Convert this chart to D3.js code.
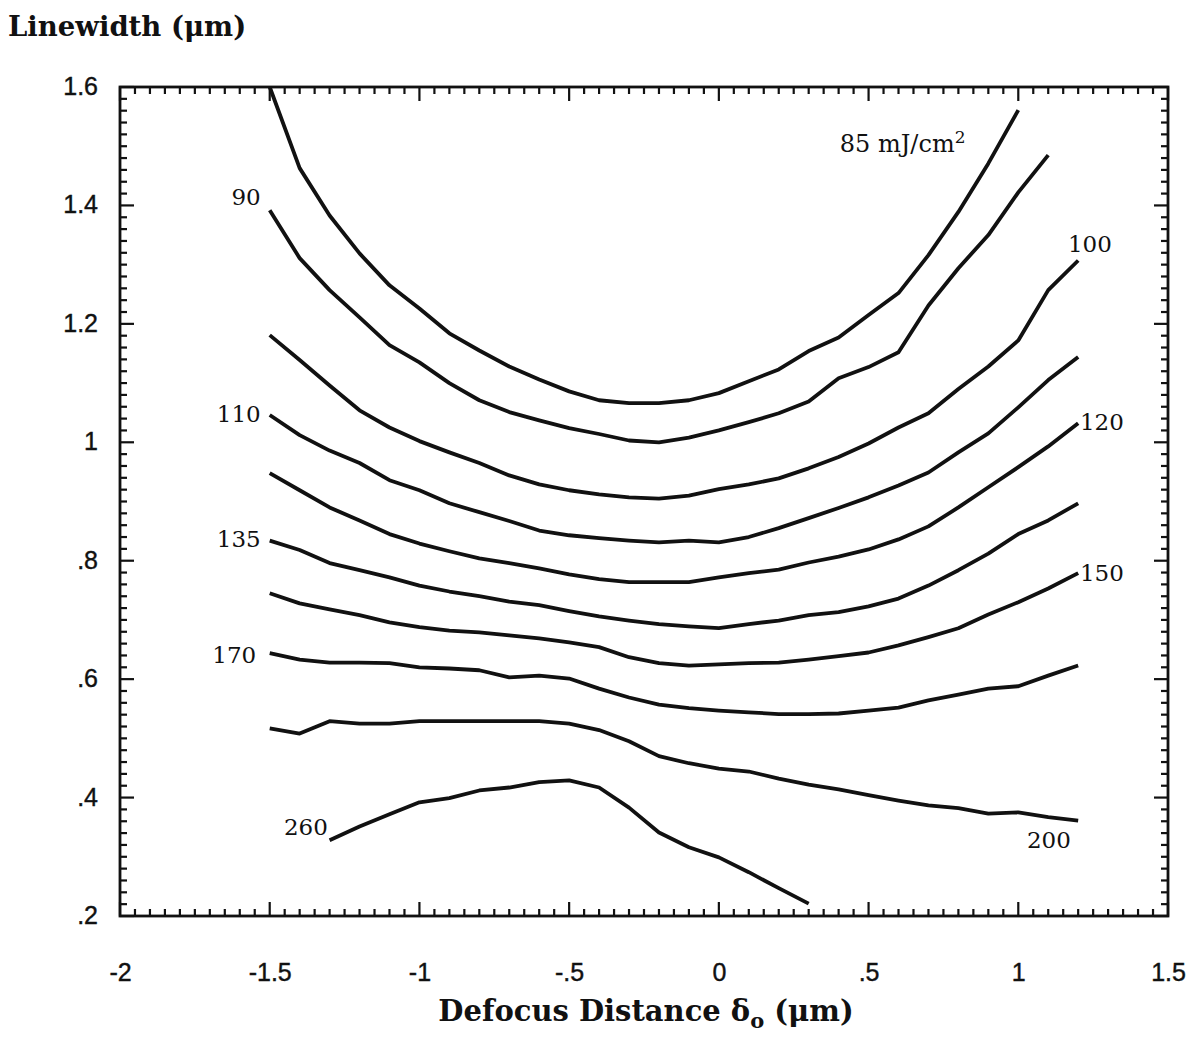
<!DOCTYPE html>
<html>
<head>
<meta charset="utf-8">
<script src="https://cdn.jsdelivr.net/npm/d3@7"></script>
<style>
  html, body { margin: 0; padding: 0; background: #fff; }
  svg { display: block; }
</style>
</head>
<body>
<svg id="chart" width="1195" height="1041"></svg>
<script>
// ---------------- data ----------------
const defocus = [-1.5,-1.4,-1.3,-1.2,-1.1,-1.0,-0.9,-0.8,-0.7,-0.6,-0.5,-0.4,-0.3,-0.2,-0.1,0,0.1,0.2,0.3,0.4,0.5,0.6,0.7,0.8,0.9,1.0,1.1,1.2];

const lw85  = [1.600,1.463,1.383,1.319,1.265,1.226,1.184,1.155,1.128,1.106,1.086,1.071,1.066,1.066,1.071,1.083,1.103,1.123,1.154,1.177,1.215,1.252,1.316,1.389,1.471,1.561];
const lw90  = [1.392,1.311,1.257,1.211,1.164,1.135,1.100,1.071,1.051,1.037,1.024,1.014,1.003,1.000,1.008,1.020,1.034,1.049,1.069,1.108,1.127,1.152,1.231,1.294,1.350,1.422,1.485];
const lw100 = [1.181,1.139,1.096,1.054,1.025,1.002,0.983,0.965,0.944,0.929,0.919,0.912,0.907,0.905,0.910,0.921,0.929,0.939,0.956,0.975,0.998,1.025,1.049,1.090,1.128,1.172,1.257,1.307];
const lw110 = [1.046,1.012,0.986,0.965,0.936,0.919,0.897,0.882,0.867,0.851,0.843,0.838,0.834,0.831,0.834,0.831,0.840,0.855,0.872,0.889,0.907,0.927,0.949,0.983,1.015,1.059,1.105,1.144];
const lw120 = [0.948,0.919,0.890,0.868,0.845,0.829,0.816,0.804,0.796,0.787,0.777,0.769,0.764,0.764,0.764,0.772,0.779,0.785,0.797,0.807,0.819,0.836,0.858,0.890,0.924,0.958,0.993,1.032];
const lw135 = [0.834,0.818,0.796,0.784,0.772,0.758,0.748,0.740,0.731,0.725,0.715,0.706,0.699,0.693,0.689,0.686,0.693,0.699,0.708,0.713,0.723,0.736,0.758,0.784,0.812,0.845,0.868,0.897];
const lw150 = [0.745,0.728,0.718,0.708,0.696,0.688,0.682,0.679,0.674,0.669,0.662,0.654,0.637,0.627,0.623,0.625,0.627,0.628,0.633,0.639,0.645,0.657,0.671,0.686,0.709,0.730,0.753,0.779];
const lw170 = [0.644,0.633,0.628,0.628,0.627,0.620,0.618,0.615,0.603,0.606,0.601,0.584,0.569,0.557,0.551,0.547,0.544,0.541,0.541,0.542,0.547,0.552,0.564,0.574,0.584,0.588,0.606,0.623];
const lw200 = [0.517,0.508,0.529,0.525,0.525,0.529,0.529,0.529,0.529,0.529,0.525,0.514,0.495,0.470,0.458,0.449,0.444,0.432,0.422,0.414,0.404,0.395,0.387,0.382,0.373,0.375,0.367,0.361];
const lw260 = [0.328,0.351,0.372,0.392,0.399,0.412,0.417,0.426,0.429,0.417,0.383,0.341,0.316,0.299,0.274,0.247,0.221];

// first defocus index of each curve
const curveStart = [0,0,0,0,0,0,0,0,0,2];
const curveValues = [lw85,lw90,lw100,lw110,lw120,lw135,lw150,lw170,lw200,lw260];

const xTickValues = [-2,-1.5,-1,-0.5,0,0.5,1,1.5];
const xTickLabels = ["-2","-1.5","-1","-.5","0",".5","1","1.5"];
const yTickValues = [0.2,0.4,0.6,0.8,1.0,1.2,1.4,1.6];
const yTickLabels = [".2",".4",".6",".8","1","1.2","1.4","1.6"];

// curve labels: text, anchor point in data coords, anchor side
const labelText = ["85 mJ/cm","90","100","110","120","135","150","170","200","260"];
const labelX    = [0.404,-1.53,1.166,-1.53,1.206,-1.53,1.206,-1.545,1.029,-1.306];
const labelY    = [1.490,1.400,1.321,1.034,1.020,0.824,0.765,0.627,0.314,0.336];
const labelEnd  = [false,true,false,true,false,true,false,true,false,true];

// ---------------- chart ----------------
const svg = d3.select("#chart");
const W = 1195, H = 1041;
const margin = {left: 120, right: 27, top: 87, bottom: 125};

const x = d3.scaleLinear().domain([-2, 1.5]).range([margin.left, W - margin.right]);
const y = d3.scaleLinear().domain([0.2, 1.6]).range([H - margin.bottom, margin.top]);

const ink = "#111";

// minor ticks
const xMinor = d3.range(-2, 1.5001, 0.05).map(v => +v.toFixed(2));
const yMinor = d3.range(0.2, 1.6001, 0.02).map(v => +v.toFixed(2));
const isMajorX = v => Math.abs(v * 2 - Math.round(v * 2)) < 1e-6;
const isMajorY = v => Math.abs(v * 5 - Math.round(v * 5)) < 1e-6;

const tickG = svg.append("g").attr("stroke", ink).attr("stroke-width", 2.2);
const x0 = x.range()[0], x1 = x.range()[1], y0 = y.range()[0], y1 = y.range()[1];
const minorLen = 7, majorLen = 14;

// bottom & top
xMinor.forEach(v => {
  const L = isMajorX(v) ? majorLen : minorLen;
  tickG.append("line").attr("x1", x(v)).attr("x2", x(v)).attr("y1", y0).attr("y2", y0 - L);
  tickG.append("line").attr("x1", x(v)).attr("x2", x(v)).attr("y1", y1).attr("y2", y1 + L);
});
// left & right
yMinor.forEach(v => {
  const L = isMajorY(v) ? majorLen : minorLen;
  tickG.append("line").attr("y1", y(v)).attr("y2", y(v)).attr("x1", x0).attr("x2", x0 + L);
  tickG.append("line").attr("y1", y(v)).attr("y2", y(v)).attr("x1", x1).attr("x2", x1 - L);
});

// frame
svg.append("rect")
  .attr("x", x0).attr("y", y1).attr("width", x1 - x0).attr("height", y0 - y1)
  .attr("fill", "none").attr("stroke", ink).attr("stroke-width", 2.8);

// axes labels via d3 axes (no lines, only text)
const xAxis = d3.axisBottom(x).tickValues(xTickValues)
  .tickFormat((d, i) => xTickLabels[i]).tickSize(0).tickPadding(0);
const gx = svg.append("g").attr("transform", `translate(0,${y0 + 65})`).call(xAxis);
gx.select(".domain").remove();
gx.selectAll("text").attr("font-family", "'Liberation Sans', Arial, sans-serif")
  .attr("font-size", 25).attr("fill", ink).attr("dy", "0")
  .attr("stroke", ink).attr("stroke-width", 0.4);

const yAxis = d3.axisLeft(y).tickValues(yTickValues)
  .tickFormat((d, i) => yTickLabels[i]).tickSize(0).tickPadding(0);
const gy = svg.append("g").attr("transform", `translate(${x0 - 22},0)`).call(yAxis);
gy.select(".domain").remove();
gy.selectAll("text").attr("font-family", "'Liberation Sans', Arial, sans-serif")
  .attr("font-size", 25).attr("fill", ink).attr("dy", "0.3em")
  .attr("stroke", ink).attr("stroke-width", 0.4);

// curves
const line = d3.line().x(d => x(d[0])).y(d => y(d[1])).curve(d3.curveLinear);
curveValues.forEach((vals, k) => {
  const pts = vals.map((v, i) => [defocus[curveStart[k] + i], v]);
  svg.append("path").datum(pts).attr("d", line)
    .attr("fill", "none").attr("stroke", ink).attr("stroke-width", 3.8)
    .attr("stroke-linejoin", "round").attr("stroke-linecap", "butt");
});

// curve labels
labelText.forEach((t, i) => {
  const tx = svg.append("text")
    .attr("x", x(labelX[i])).attr("y", y(labelY[i]))
    .attr("text-anchor", labelEnd[i] ? "end" : "start")
    .attr("font-family", "'DejaVu Serif', serif").attr("font-size", 23).attr("fill", ink)
    .text(t);
  if (i === 0) {
    tx.attr("font-size", 24);
    tx.append("tspan").attr("font-size", 17).attr("dy", -9).text("2");
  }
});

// axis titles
svg.append("text").attr("x", 8).attr("y", 36)
  .attr("font-family", "'DejaVu Serif', serif").attr("font-weight", "bold")
  .attr("font-size", 27.5).attr("fill", ink)
  .text("Linewidth (μm)");

const xt = svg.append("text").attr("x", (x0 + x1) / 2 + 2).attr("y", 1021)
  .attr("text-anchor", "middle")
  .attr("font-family", "'DejaVu Serif', serif").attr("font-weight", "bold")
  .attr("font-size", 29).attr("fill", ink);
xt.append("tspan").text("Defocus Distance δ");
xt.append("tspan").attr("dy", 7).attr("font-size", 21).text("o");
xt.append("tspan").attr("dy", -7).text(" (μm)");
</script>
</body>
</html>
